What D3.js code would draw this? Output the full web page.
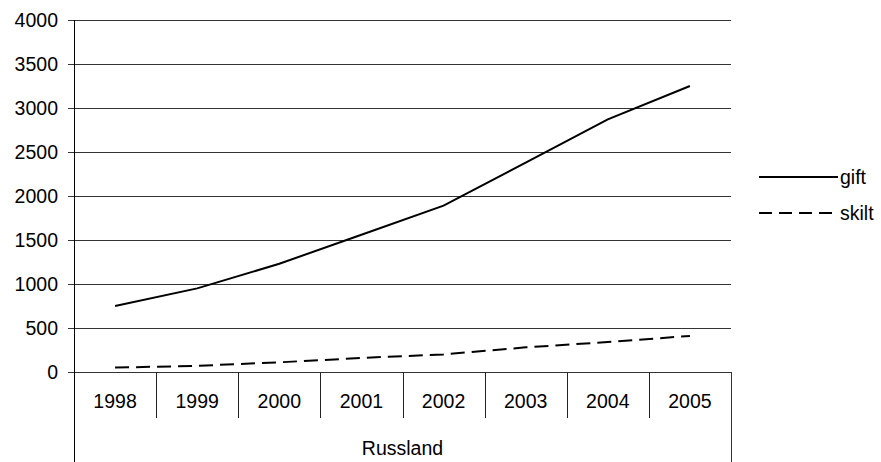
<!DOCTYPE html>
<html>
<head>
<meta charset="utf-8">
<script src="https://cdn.jsdelivr.net/npm/d3@7"></script>
<style>
  body { margin: 0; background: #fff; }
  text { font-family: "Liberation Sans", Arial, sans-serif; font-size: 19.5px; fill: #000; }
</style>
</head>
<body>
<div class="chart"></div>
<script>
var years = ['1998', '1999', '2000', '2001', '2002', '2003', '2004', '2005']
var gift = [750, 950, 1230, 1560, 1890, 2380, 2870, 3250]
var skilt = [50, 70, 110, 160, 200, 280, 340, 410]
var yTicks = [0, 500, 1000, 1500, 2000, 2500, 3000, 3500, 4000]
var groupLabel = 'Russland'
var seriesNames = ['gift', 'skilt']

var width = 881
var height = 462
var plot = {left: 74, right: 731, top: 20, bottom: 372}

var svg = d3.select('.chart')
  .append('svg')
  .attr('width', width)
  .attr('height', height)

var x = d3.scaleBand()
  .domain(years)
  .range([plot.left, plot.right])
  .paddingInner(0)
  .paddingOuter(0)

var y = d3.scaleLinear()
  .domain([0, 4000])
  .range([plot.bottom, plot.top])

// horizontal grid + y ticks
svg.append('g')
  .selectAll('line')
  .data(yTicks)
  .enter().append('line')
  .attr('x1', plot.left - 6)
  .attr('x2', plot.right)
  .attr('y1', function(d) { return Math.round(y(d)) + 0.5 })
  .attr('y2', function(d) { return Math.round(y(d)) + 0.5 })
  .attr('stroke', '#333')
  .attr('stroke-width', 1)

svg.append('g')
  .selectAll('text')
  .data(yTicks)
  .enter().append('text')
  .attr('x', plot.left - 16)
  .attr('y', function(d) { return y(d) })
  .attr('dy', '0.36em')
  .attr('text-anchor', 'end')
  .text(function(d) { return d })

// y axis line, extends down as group bracket
svg.append('line')
  .attr('x1', plot.left + 0.5).attr('x2', plot.left + 0.5)
  .attr('y1', plot.top).attr('y2', height)
  .attr('stroke', '#000')

// right bracket line
svg.append('line')
  .attr('x1', plot.right + 0.5).attr('x2', plot.right + 0.5)
  .attr('y1', plot.bottom).attr('y2', height)
  .attr('stroke', '#333')

// category separators
svg.append('g')
  .selectAll('line')
  .data(years.slice(1))
  .enter().append('line')
  .attr('x1', function(d) { return Math.round(x(d)) + 0.5 })
  .attr('x2', function(d) { return Math.round(x(d)) + 0.5 })
  .attr('y1', plot.bottom)
  .attr('y2', 418)
  .attr('stroke', '#222')

svg.append('g')
  .selectAll('text')
  .data(years)
  .enter().append('text')
  .attr('x', function(d) { return x(d) + x.bandwidth() / 2 })
  .attr('y', 408)
  .attr('text-anchor', 'middle')
  .text(function(d) { return d })

svg.append('text')
  .attr('x', (plot.left + plot.right) / 2)
  .attr('y', 455)
  .attr('text-anchor', 'middle')
  .text(groupLabel)

var line = d3.line()
  .x(function(d, i) { return x(years[i]) + x.bandwidth() / 2 })
  .y(function(d) { return y(d) })

svg.append('path')
  .datum(gift)
  .attr('d', line)
  .attr('fill', 'none')
  .attr('stroke', '#000')
  .attr('stroke-width', 2)

svg.append('path')
  .datum(skilt)
  .attr('d', line)
  .attr('fill', 'none')
  .attr('stroke', '#000')
  .attr('stroke-width', 2)
  .attr('stroke-dasharray', '14,7')

// legend
var legend = svg.append('g')
  .selectAll('g')
  .data(seriesNames)
  .enter().append('g')
  .attr('transform', function(d, i) { return 'translate(759,' + (177 + i * 36) + ')' })

legend.append('line')
  .attr('x1', 0).attr('x2', 79)
  .attr('y1', 0).attr('y2', 0)
  .attr('stroke', '#000')
  .attr('stroke-width', 2)
  .attr('stroke-dasharray', function(d, i) { return i === 1 ? '13,7' : null })

legend.append('text')
  .attr('x', 81)
  .attr('y', 0)
  .attr('dy', '0.36em')
  .text(function(d) { return d })
</script>
</body>
</html>
